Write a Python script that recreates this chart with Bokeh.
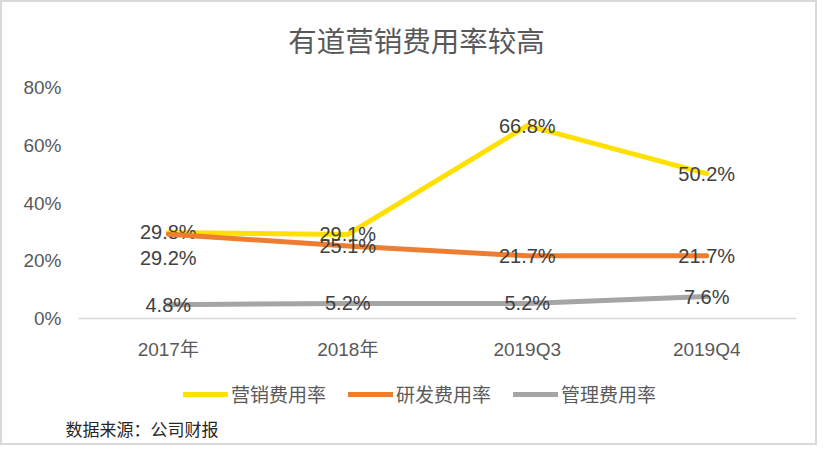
from bokeh.plotting import figure
from bokeh.models import (ColumnDataSource, FactorRange, Range1d, FixedTicker,
                          PrintfTickFormatter, Legend, LegendItem, Label)
from bokeh.core.properties import value
from bokeh.transform import dodge
from bokeh.embed import file_html
from bokeh.resources import INLINE

# ---- data ----
categories = ["2017年", "2018年", "2019Q3", "2019Q4"]
marketing = [29.8, 29.1, 66.8, 50.2]
research = [29.2, 25.1, 21.7, 21.7]
admin = [4.8, 5.2, 5.2, 7.6]
series_names = ["营销费用率", "研发费用率", "管理费用率"]
y_ticks = [0, 20, 40, 60, 80]
title_text = "有道营销费用率较高"
source_text = "数据来源：公司财报"

# ---- styles / layout ----
colors = ["#FFE000", "#ED7D31", "#A5A5A5"]
label_dy = [[0, 0, 0, 0], [24, 0, 0, 0], [0, 0, 0, 0]]  # pixel offsets of data labels
LATIN = "Liberation Sans, Noto Sans CJK SC"
CJK = "Noto Sans CJK SC"

W, H = 817, 445
FRAME_L, FRAME_R = 61, 809          # frame edges (px)
ZERO_Y, TOP_Y = 316, 85             # pixel rows of 0% and 80%
px_per_unit = (ZERO_Y - TOP_Y) / (y_ticks[-1] - y_ticks[0])
y_start = y_ticks[0] - (H - ZERO_Y) / px_per_unit
y_end = y_ticks[-1] + TOP_Y / px_per_unit

p = figure(width=W, height=H, x_range=FactorRange(*categories),
           y_range=Range1d(y_start, y_end), output_backend="svg",
           toolbar_location=None, min_border=0,
           min_border_left=FRAME_L, min_border_right=W - FRAME_R,
           min_border_top=0, min_border_bottom=0,
           background_fill_color="white", border_fill_color="white",
           outline_line_color=None,
           styles={"border": "2px solid #d9d9d9"})
p.title.visible = False
pad = 15 / 179
p.x_range.range_padding = pad
p.x_range.range_padding_units = "absolute"
p.xgrid.visible = False
p.ygrid.visible = False

# axes
p.yaxis.ticker = FixedTicker(ticks=y_ticks)
p.yaxis.formatter = PrintfTickFormatter(format="%d%%")
p.yaxis.axis_line_color = None
p.yaxis.major_tick_line_color = None
p.yaxis.minor_tick_line_color = None
p.yaxis.major_tick_out = 0
p.yaxis.major_label_standoff = 2
p.yaxis.major_label_text_font = LATIN
p.yaxis.major_label_text_font_size = "19px"
p.yaxis.major_label_text_color = "#595959"

p.xaxis.fixed_location = 0
p.xaxis.axis_line_color = None
p.xaxis.major_tick_line_color = None
p.xaxis.minor_tick_line_color = None
p.xaxis.major_tick_out = 0
p.xaxis.major_label_standoff = 20
p.xaxis.major_label_text_font = LATIN
p.xaxis.major_label_text_font_size = "19px"
p.xaxis.major_label_text_color = "#595959"

# baseline at 0% spanning the category band
base = ColumnDataSource(dict(x0=[categories[0]], x1=[categories[-1]], y=[y_ticks[0]]))
p.segment(x0=dodge("x0", -0.5, range=p.x_range), x1=dodge("x1", 0.5, range=p.x_range),
          y0="y", y1="y", source=base, line_color="#D9D9D9", line_width=1.5)

items = []
for name, vals, color, dy in zip(series_names, [marketing, research, admin], colors, label_dy):
    src = ColumnDataSource(dict(x=categories, y=vals,
                                lab=[f"{v:.1f}%" for v in vals], dy=dy))
    r = p.line("x", "y", source=src, line_color=color, line_width=5,
               line_join="round", line_cap="round")
    items.append(LegendItem(label=name, renderers=[r]))
    p.text("x", "y", text="lab", source=src, y_offset="dy",
           text_align="center", text_baseline="middle",
           text_font=value(LATIN), text_font_size="20px", text_color="#404040")

legend = Legend(items=items, orientation="horizontal", location=(181 - FRAME_L, 40),
                glyph_width=45, glyph_height=20, label_standoff=3, spacing=22,
                label_text_font=CJK, label_text_font_size="19px",
                label_text_color="#595959", border_line_color=None,
                background_fill_alpha=0, padding=0, margin=0)
p.add_layout(legend, "center")

title = Label(text=title_text, x=414 - FRAME_L, y=H - 37, x_units="screen", y_units="screen",
              text_align="center", text_baseline="middle", text_font=CJK,
              text_font_size="28.5px", text_color="#595959")
p.add_layout(title)

src_label = Label(text=source_text, x=63 - FRAME_L, y=H - 426, x_units="screen",
                  y_units="screen", text_align="left", text_baseline="middle",
                  text_font=CJK, text_font_size="17px", text_color="#262626")
p.add_layout(src_label)

open("out.html", "w").write(file_html(p, INLINE))
